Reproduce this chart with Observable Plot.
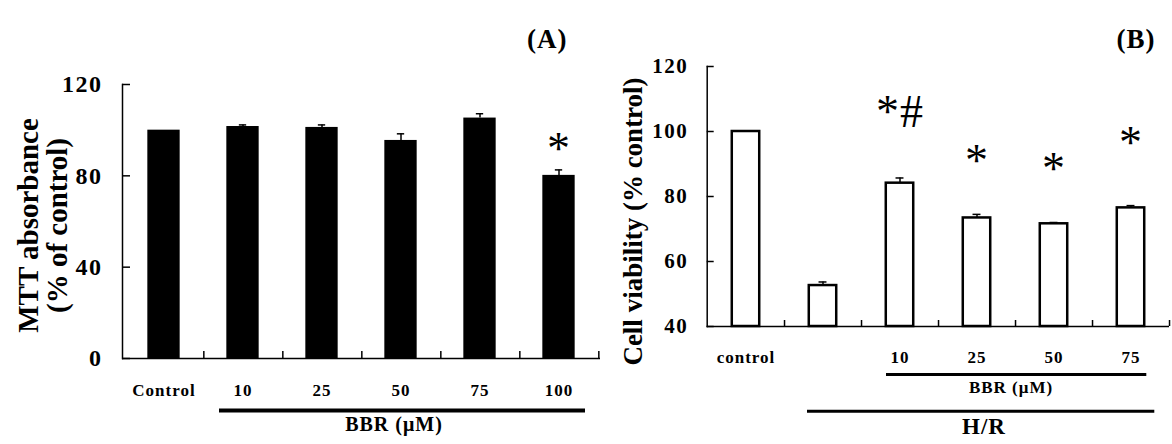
<!DOCTYPE html>
<html>
<head>
<meta charset="utf-8">
<script src="https://cdn.jsdelivr.net/npm/d3@7"></script>
<script src="https://cdn.jsdelivr.net/npm/@observablehq/plot@0.6"></script>
<style>
  html, body { margin: 0; padding: 0; background: #fff; }
  #wrap { position: relative; width: 1172px; height: 444px; overflow: hidden; background: #fff; }
  #panelA { position: absolute; left: 0; top: 0; width: 600px; height: 444px; overflow: hidden; }
  #panelB { position: absolute; left: 621px; top: 0; width: 551px; height: 444px; overflow: hidden; }
  #wrap svg text { letter-spacing: 1px; }
  #wrap svg g[aria-label="y-axis tick label"] text { letter-spacing: 1.5px; }
  #wrap svg .ylab text { letter-spacing: 0; }
</style>
</head>
<body>
<div id="wrap"><div id="panelA"></div><div id="panelB"></div></div>
<script>
// ---------- Panel A data ----------
const catsA = ["Control", "10", "25", "50", "75", "100"];
const valsA = [100, 101.6, 101.2, 95.5, 105.3, 80.2];
const errA = [0, 0.7, 1.1, 2.9, 1.9, 2.4];
const starA = ["", "", "", "", "", "*"];
const starYA = [null, null, null, null, null, 91.5];
const ticksA = [0, 40, 80, 120];
const yLabelA = "MTT absorbance\n(% of control)";
const bbrRangeA = ["10", "100"];
const bbrLabel = "BBR (\u03BCM)";
const titleA = "(A)";

// ---------- Panel B data ----------
const catsB = ["control", "H/R", "10", "25", "50", "75"];
const tickLabelsB = ["control", "", "10", "25", "50", "75"];
const valsB = [100, 52.6, 84.1, 73.4, 71.6, 76.5];
const errB = [0, 1.1, 1.6, 1.1, 0.4, 0.7];
const marksB = ["", "", "*#", "*", "*", "*"];
const markYB = [null, null, 105.8, 90.8, 88.3, 96.3];
const ticksB = [40, 60, 80, 100, 120];
const yLabelB = "Cell viability (% control)";
const bbrRangeB = ["10", "75"];
const hrRangeB = ["H/R", "75"];
const hrLabel = "H/R";
const titleB = "(B)";

const serif = "'Liberation Serif', 'Times New Roman', Times, serif";

// ---------- Panel A ----------
const WA = 600, HA = 444, mlA = 122, mrA = 0, mtA = 84, mbA = 86;
const stepA = (WA - mlA - mrA) / catsA.length;
const innerHA = HA - mtA - mbA;
const dataA = catsA.map((c, i) => ({c, v: valsA[i], hi: valsA[i] + errA[i], s: starA[i], sy: starYA[i]}));
const errDataA = dataA.filter(d => d.hi > d.v);

const plotA = Plot.plot({
  width: WA, height: HA,
  marginLeft: mlA, marginRight: mrA, marginTop: mtA, marginBottom: mbA,
  style: {fontFamily: serif, fontWeight: "bold", color: "black", background: "white"},
  x: {domain: catsA, padding: 0, label: null},
  y: {domain: [0, 120], label: null},
  marks: [
    Plot.barY(dataA, {x: "c", y: "v", fill: "black", insetLeft: (stepA - 33) / 2, insetRight: (stepA - 33) / 2}),
    Plot.ruleX(errDataA, {x: "c", y1: "v", y2: "hi", stroke: "black", strokeWidth: 1.5}),
    Plot.tickY(errDataA, {x: "c", y: "hi", stroke: "black", strokeWidth: 1.5, insetLeft: (stepA - 8) / 2, insetRight: (stepA - 8) / 2}),
    Plot.ruleY(ticksA, {stroke: "black", strokeWidth: 1.5, insetRight: stepA * catsA.length - 8}),
    Plot.ruleX(catsA, {x: d => d, dx: stepA / 2, insetTop: innerHA - 7, stroke: "black", strokeWidth: 1.5}),
    Plot.ruleY([0], {stroke: "black", strokeWidth: 1.5}),
    Plot.frame({anchor: "left", stroke: "black", strokeWidth: 1.5}),
    Plot.axisY(ticksA, {tickSize: 0, tickPadding: 20, fontSize: 24, fontWeight: "bold"}),
    Plot.axisX({tickSize: 0, tickPadding: 25, fontSize: 17, fontWeight: "bold"}),
    Plot.text(dataA.filter(d => d.s), {x: "c", y: "sy", text: "s", fontSize: 46, fontWeight: "normal"}),
    Plot.text([yLabelA], {text: d => d, frameAnchor: "left", textAnchor: "middle", rotate: -90, dx: -79, dy: 4, fontSize: 29, lineHeight: 0.97, className: "ylab"}),
    Plot.ruleY([0], {x1: () => bbrRangeA[0], x2: () => bbrRangeA[1], dy: 52, stroke: "black", strokeWidth: 4, insetLeft: 16, insetRight: 13}),
    Plot.text([bbrLabel], {text: d => d, x: () => "50", frameAnchor: "bottom", dx: -7, dy: 72, fontSize: 20}),
    Plot.text([titleA], {text: d => d, frameAnchor: "top-right", textAnchor: "end", dx: -33, dy: -56, fontSize: 27})
  ]
});
document.getElementById("panelA").appendChild(plotA);

// ---------- Panel B ----------
const WB = 551, HB = 444, mlB = 85.7, mrB = 3, mtB = 66, mbB = 118;
const stepB = (WB - mlB - mrB) / catsB.length;
const innerHB = HB - mtB - mbB;
const dataB = catsB.map((c, i) => ({c, v: valsB[i], hi: valsB[i] + errB[i], s: marksB[i], sy: markYB[i]}));
const errDataB = dataB.filter(d => d.hi > d.v);

const plotB = Plot.plot({
  width: WB, height: HB,
  marginLeft: mlB, marginRight: mrB, marginTop: mtB, marginBottom: mbB,
  style: {fontFamily: serif, fontWeight: "bold", color: "black", background: "white"},
  x: {domain: catsB, padding: 0, label: null},
  y: {domain: [40, 120], label: null},
  marks: [
    Plot.ruleX(errDataB, {x: "c", y1: "v", y2: "hi", stroke: "black", strokeWidth: 1.5}),
    Plot.tickY(errDataB, {x: "c", y: "hi", stroke: "black", strokeWidth: 1.5, insetLeft: (stepB - 8) / 2, insetRight: (stepB - 8) / 2}),
    Plot.barY(dataB, {x: "c", y1: 40, y2: "v", fill: "white", stroke: "black", strokeWidth: 2.5, insetLeft: (stepB - 27.5) / 2, insetRight: (stepB - 27.5) / 2}),
    Plot.ruleY(ticksB, {stroke: "black", strokeWidth: 1.5, insetRight: stepB * catsB.length - 7}),
    Plot.ruleX(catsB, {x: d => d, dx: stepB / 2, insetTop: innerHB - 6, stroke: "black", strokeWidth: 1.5}),
    Plot.ruleY([40], {stroke: "black", strokeWidth: 1.5}),
    Plot.frame({anchor: "left", stroke: "black", strokeWidth: 1.5}),
    Plot.axisY(ticksB, {tickSize: 0, tickPadding: 19, fontSize: 21, fontWeight: "bold"}),
    Plot.axisX({tickSize: 0, tickPadding: 24, fontSize: 17, fontWeight: "bold", tickFormat: (d) => tickLabelsB[catsB.indexOf(d)]}),
    Plot.text(dataB.filter(d => d.s), {x: "c", y: "sy", text: "s", fontSize: 46, fontWeight: "normal"}),
    Plot.text([yLabelB], {text: d => d, frameAnchor: "left", textAnchor: "middle", rotate: -90, dx: -74.3, dy: 25, fontSize: 27, className: "ylab"}),
    Plot.ruleY([40], {x1: () => bbrRangeB[0], x2: () => bbrRangeB[1], dy: 48, stroke: "black", strokeWidth: 3, insetLeft: 25, insetRight: 22.7}),
    Plot.text([bbrLabel], {text: d => d, x: () => "25", frameAnchor: "bottom", dx: 34, dy: 66.7, fontSize: 17}),
    Plot.ruleY([40], {x1: () => hrRangeB[0], x2: () => hrRangeB[1], dy: 84.7, stroke: "black", strokeWidth: 3, insetLeft: 23, insetRight: 14.7}),
    Plot.text([hrLabel], {text: d => d, x: () => "25", frameAnchor: "bottom", dx: 7, dy: 107, fontSize: 23}),
    Plot.text([titleB], {text: d => d, frameAnchor: "top-right", textAnchor: "end", dx: -14, dy: -38, fontSize: 27})
  ]
});
document.getElementById("panelB").appendChild(plotB);
</script>
</body>
</html>
